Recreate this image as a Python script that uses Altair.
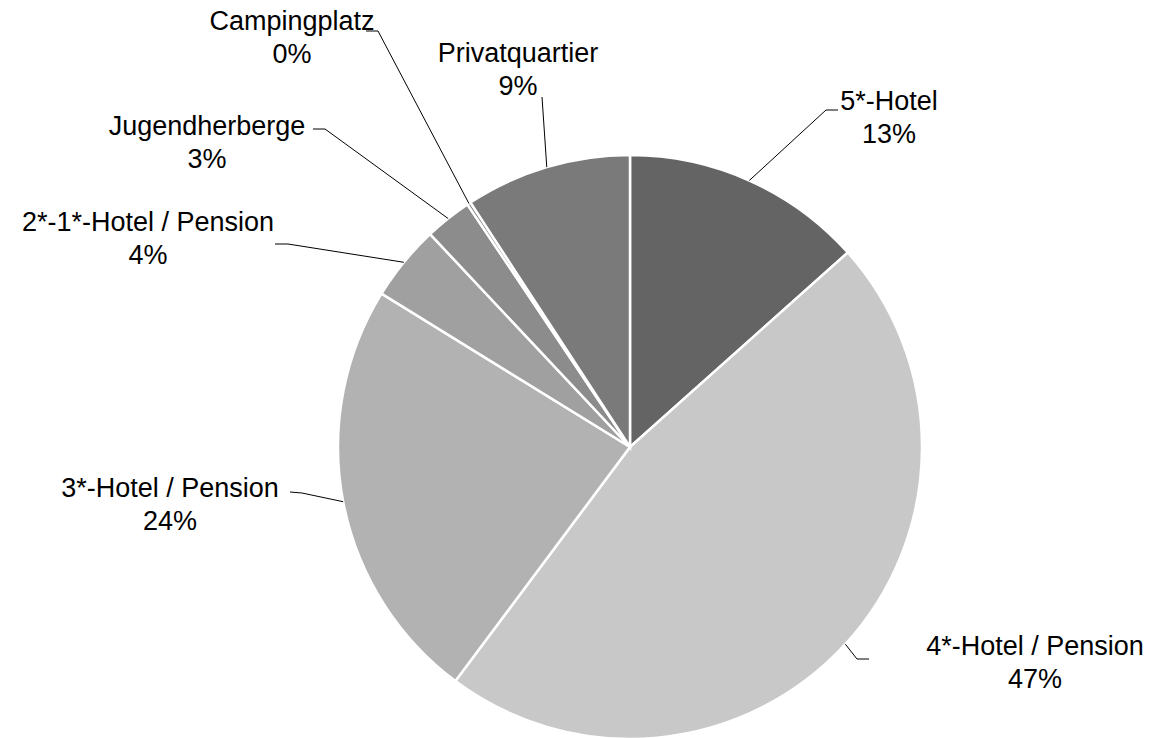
import altair as alt
import numpy as np
import pandas as pd

# ---- data ----
categories = ["5*-Hotel", "4*-Hotel / Pension", "3*-Hotel / Pension",
              "2*-1*-Hotel / Pension", "Jugendherberge", "Campingplatz",
              "Privatquartier"]
shares = [13.4, 46.8, 23.6, 4.2, 2.6, 0.2, 9.2]
colors = ["#646464", "#c8c8c8", "#b2b2b2", "#a0a0a0", "#8c8c8c", "#808080", "#7a7a7a"]

# ---- layout (chart-pixel coordinates) ----
W, H = 1150, 722
CX, CY, R = 622, 437, 292
OFF = 8  # page margin
# label anchor: centre of first text line (page coords)
label_pos = {
    "5*-Hotel": (889, 100),
    "4*-Hotel / Pension": (1035, 645),
    "3*-Hotel / Pension": (170, 487),
    "2*-1*-Hotel / Pension": (148, 221),
    "Jugendherberge": (207, 125),
    "Campingplatz": (292, 20),
    "Privatquartier": (518, 52),
}
# leader line: text-side start and elbow (page coords)
leader_pts = {
    "5*-Hotel": [(838, 108), (826, 108)],
    "4*-Hotel / Pension": [(869, 657), (857, 657)],
    "3*-Hotel / Pension": [(290, 490), (302, 491)],
    "2*-1*-Hotel / Pension": [(275, 242), (288, 242)],
    "Jugendherberge": [(313, 127), (325, 127)],
    "Campingplatz": [(366, 29), (378, 29)],
    "Privatquartier": [(542, 95), (542, 95)],
}

df = pd.DataFrame({"cat": categories, "v": shares, "idx": range(len(categories))})
df["label"] = [f"{c}\n{round(v)}%" for c, v in zip(categories, shares)]
df["lx"] = [label_pos[c][0] - OFF for c in categories]
df["ly"] = [label_pos[c][1] - OFF for c in categories]

vals = np.array(shares)
cum = np.cumsum(vals)
mid = (cum - vals / 2) / vals.sum() * 2 * np.pi
ex = CX + R * np.sin(mid)
ey = CY - R * np.cos(mid)

rows = []
for i, c in enumerate(categories):
    pts = leader_pts[c]
    for k, (px, py) in enumerate(pts):
        rows.append({"cat": c, "k": k, "px": px - OFF, "py": py - OFF})
    rows.append({"cat": c, "k": 2, "px": ex[i], "py": ey[i]})
lines = pd.DataFrame(rows)

xs = alt.Scale(domain=[0, W], nice=False, zero=False)
ys = alt.Scale(domain=[0, H], nice=False, zero=False, reverse=True)

pie = alt.Chart(df).mark_arc(outerRadius=R, stroke="white", strokeWidth=2.5).encode(
    theta=alt.Theta("v:Q", stack=True),
    order=alt.Order("idx:Q"),
    color=alt.Color("cat:N", scale=alt.Scale(domain=categories, range=colors), legend=None),
    x=alt.value(CX),
    y=alt.value(CY),
)

leaders = alt.Chart(lines).mark_line(color="black", strokeWidth=1).encode(
    x=alt.X("px:Q", scale=xs, axis=None),
    y=alt.Y("py:Q", scale=ys, axis=None),
    detail="cat:N",
    order=alt.Order("k:Q"),
)

labels = alt.Chart(df).mark_text(
    font="Liberation Sans", fontSize=27, color="black", align="center",
    baseline="middle", lineBreak="\n", lineHeight=33,
).encode(
    x=alt.X("lx:Q", scale=xs, axis=None),
    y=alt.Y("ly:Q", scale=ys, axis=None),
    text="label:N",
)

chart = alt.layer(pie, leaders, labels).properties(
    width=W, height=H, padding=0
).configure_view(stroke=None)

chart.save("out.html", embed_options={"renderer": "svg", "actions": False})
